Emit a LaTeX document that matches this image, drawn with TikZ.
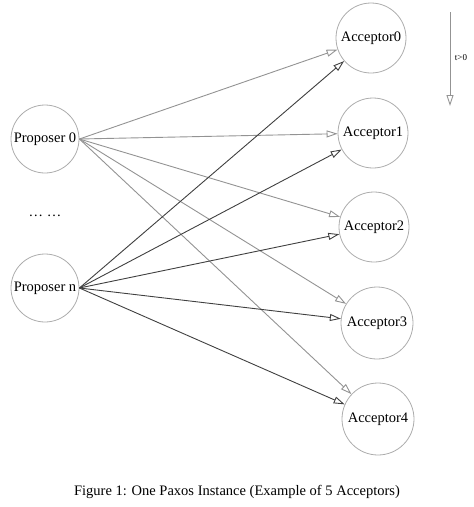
\documentclass[tikz,border=0pt]{standalone}
\usepackage{fontspec}
\setmainfont{Liberation Serif}
\usetikzlibrary{arrows.meta}

\begin{document}
\begin{tikzpicture} [x=1pt,y=-1pt,every node/.style={align=center,font=\fontsize{14.5}{17}\selectfont},
		role/.style={draw=gray!65,line width=0.8pt,circle,minimum size=68pt,inner sep=0pt},
		firstmsg/.style={draw=gray!85,line width=0.9pt,-{Triangle[open,length=11pt,width=7pt]}},
		lastmsg/.style={draw=black!75,line width=0.9pt,-{Triangle[open,length=11pt,width=7pt]}}]
			\useasboundingbox (0,0) rectangle (474,507);
			\node [role] (p0) at (45,139) {Proposer 0};
			\node (dots) at (45,216) {\dots\ \dots};
			\node [role] (pn) at (45,288) {Proposer n};
			\node [role,minimum size=70pt] (a0) at (371,38) {Acceptor0};
			\node [role,minimum size=70pt] (a1) at (373,133) {Acceptor1};
			\node [role,minimum size=70pt] (a2) at (374,227) {Acceptor2};
			\node [role,minimum size=72pt] (a3) at (377,323) {Acceptor3};
			\node [role,minimum size=72pt] (a4) at (378,419) {Acceptor4};
			\draw [firstmsg] (p0.east) -- (a0);
			\draw [firstmsg] (p0.east) -- (a1);
			\draw [firstmsg] (p0.east) -- (a2);
			\draw [firstmsg] (p0.east) -- (a3);
			\draw [firstmsg] (p0.east) -- (a4);
			\draw [lastmsg] (pn.east) -- (a0);
			\draw [lastmsg] (pn.east) -- (a1);
			\draw [lastmsg] (pn.east) -- (a2);
			\draw [lastmsg] (pn.east) -- (a3);
			\draw [lastmsg] (pn.east) -- (a4);
			\coordinate (tstart) at (450,12);
			\coordinate (tend) at (450,106);
			\draw [firstmsg] (tstart) -- (tend);
			\node [font=\fontsize{9}{11}\selectfont] (tlabel) at (461,58) {t>0};
			\node (caption) at (237,492) {Figure 1: One Paxos Instance (Example of 5 Acceptors)};
		\end{tikzpicture}
\end{document}
